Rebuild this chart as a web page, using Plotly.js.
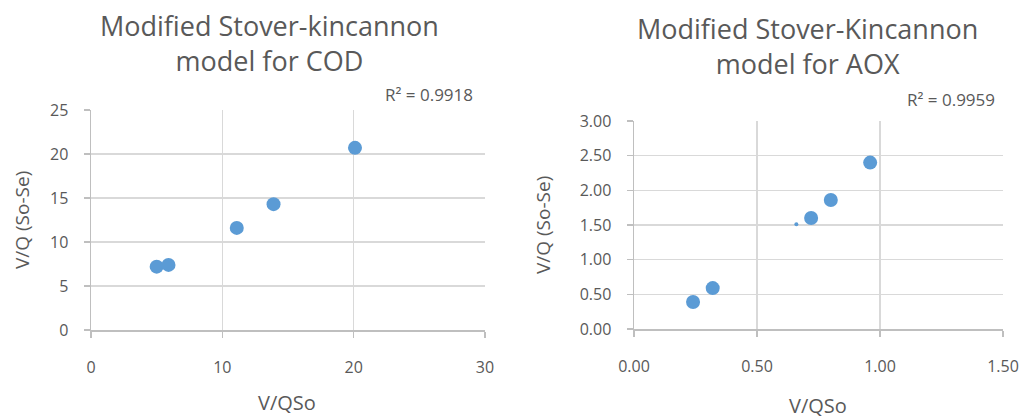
<!DOCTYPE html>
<html>
<head>
<meta charset="utf-8">
<script src="https://cdn.plot.ly/plotly-3.0.1.min.js"></script>
<style>html,body{margin:0;padding:0;background:#fff;}#chart{width:1025px;height:419px;}</style>
</head>
<body>
<div id="chart"></div>
<script>
// COD model data
const codX = [5.0, 5.9, 11.1, 13.9, 20.1];
const codY = [7.2, 7.4, 11.6, 14.3, 20.7];
// AOX model data
const aoxX = [0.24, 0.32, 0.72, 0.80, 0.96];
const aoxY = [0.39, 0.59, 1.60, 1.86, 2.40];
// small stray point on AOX chart
const aoxSmallX = [0.66];
const aoxSmallY = [1.51];

const codTitle = "Modified Stover-kincannon<br>model for COD";
const aoxTitle = "Modified Stover-Kincannon<br>model for AOX";
const codR2 = "R² = 0.9918";
const aoxR2 = "R² = 0.9959";
const xTitle = "V/QSo";
const yTitle = "V/Q (So-Se)";

const blue = "#5B9BD5";
const txt = "#595959";
const FONT = "Open Sans, sans-serif";

const traces = [
  {x: codX, y: codY, type: "scatter", mode: "markers", xaxis: "x", yaxis: "y",
   marker: {color: blue, size: 14}},
  {x: aoxX, y: aoxY, type: "scatter", mode: "markers", xaxis: "x2", yaxis: "y2",
   marker: {color: blue, size: 14}},
  {x: aoxSmallX, y: aoxSmallY, type: "scatter", mode: "markers", xaxis: "x2", yaxis: "y2",
   marker: {color: blue, size: 4}}
];

const W = 1025, H = 419;
function ax(extra) {
  return Object.assign({
    showgrid: true, gridcolor: "#d9d9d9", gridwidth: 1.5,
    zeroline: false, showline: true, linecolor: "#bfbfbf", linewidth: 1.5,
    ticks: "outside", ticklen: 6, tickcolor: "#bfbfbf", tickwidth: 1.5,
    tickfont: {family: FONT, size: 16, color: txt},
    fixedrange: true
  }, extra);
}

const layout = {
  width: W, height: H,
  margin: {l: 0, r: 0, t: 0, b: 0},
  paper_bgcolor: "#fff", plot_bgcolor: "#fff",
  showlegend: false,
  font: {family: FONT, color: txt},
  xaxis: ax({domain: [91/W, 485/W], range: [0, 30], dtick: 10, anchor: "y", ticklabelstandoff: 16}),
  yaxis: ax({domain: [(H-330)/H, (H-110)/H], range: [0, 25], dtick: 5, anchor: "x", ticklabelstandoff: 12}),
  xaxis2: ax({domain: [634/W, 1003/W], range: [0, 1.5], dtick: 0.5, tickformat: ".2f", anchor: "y2", ticklabelstandoff: 16}),
  yaxis2: ax({domain: [(H-329)/H, (H-121)/H], range: [0, 3], dtick: 0.5, tickformat: ".2f", anchor: "x2", ticklabelstandoff: 12}),
  annotations: [
    {text: codTitle, x: 269/W, y: 1 - 43/H, xref: "paper", yref: "paper", xanchor: "center", yanchor: "middle",
     showarrow: false, font: {family: FONT, size: 27, color: txt}},
    {text: aoxTitle, x: 807/W, y: 1 - 46/H, xref: "paper", yref: "paper", xanchor: "center", yanchor: "middle",
     showarrow: false, font: {family: FONT, size: 27, color: txt}},
    {text: codR2, x: 475/W, y: 1 - 95/H, xref: "paper", yref: "paper", xanchor: "right", yanchor: "middle",
     showarrow: false, font: {family: FONT, size: 17, color: txt}},
    {text: aoxR2, x: 997/W, y: 1 - 99/H, xref: "paper", yref: "paper", xanchor: "right", yanchor: "middle",
     showarrow: false, font: {family: FONT, size: 17, color: txt}},
    {text: xTitle, x: 287/W, y: 1 - 402/H, xref: "paper", yref: "paper", xanchor: "center", yanchor: "middle",
     showarrow: false, font: {family: FONT, size: 20, color: txt}},
    {text: xTitle, x: 818/W, y: 1 - 405/H, xref: "paper", yref: "paper", xanchor: "center", yanchor: "middle",
     showarrow: false, font: {family: FONT, size: 20, color: txt}},
    {text: yTitle, x: 22/W, y: 1 - 220/H, xref: "paper", yref: "paper", xanchor: "center", yanchor: "middle",
     showarrow: false, textangle: -90, font: {family: FONT, size: 19, color: txt}},
    {text: yTitle, x: 543/W, y: 1 - 225/H, xref: "paper", yref: "paper", xanchor: "center", yanchor: "middle",
     showarrow: false, textangle: -90, font: {family: FONT, size: 19, color: txt}}
  ]
};

Plotly.newPlot("chart", traces, layout, {displayModeBar: false, staticPlot: true});
</script>
</body>
</html>
